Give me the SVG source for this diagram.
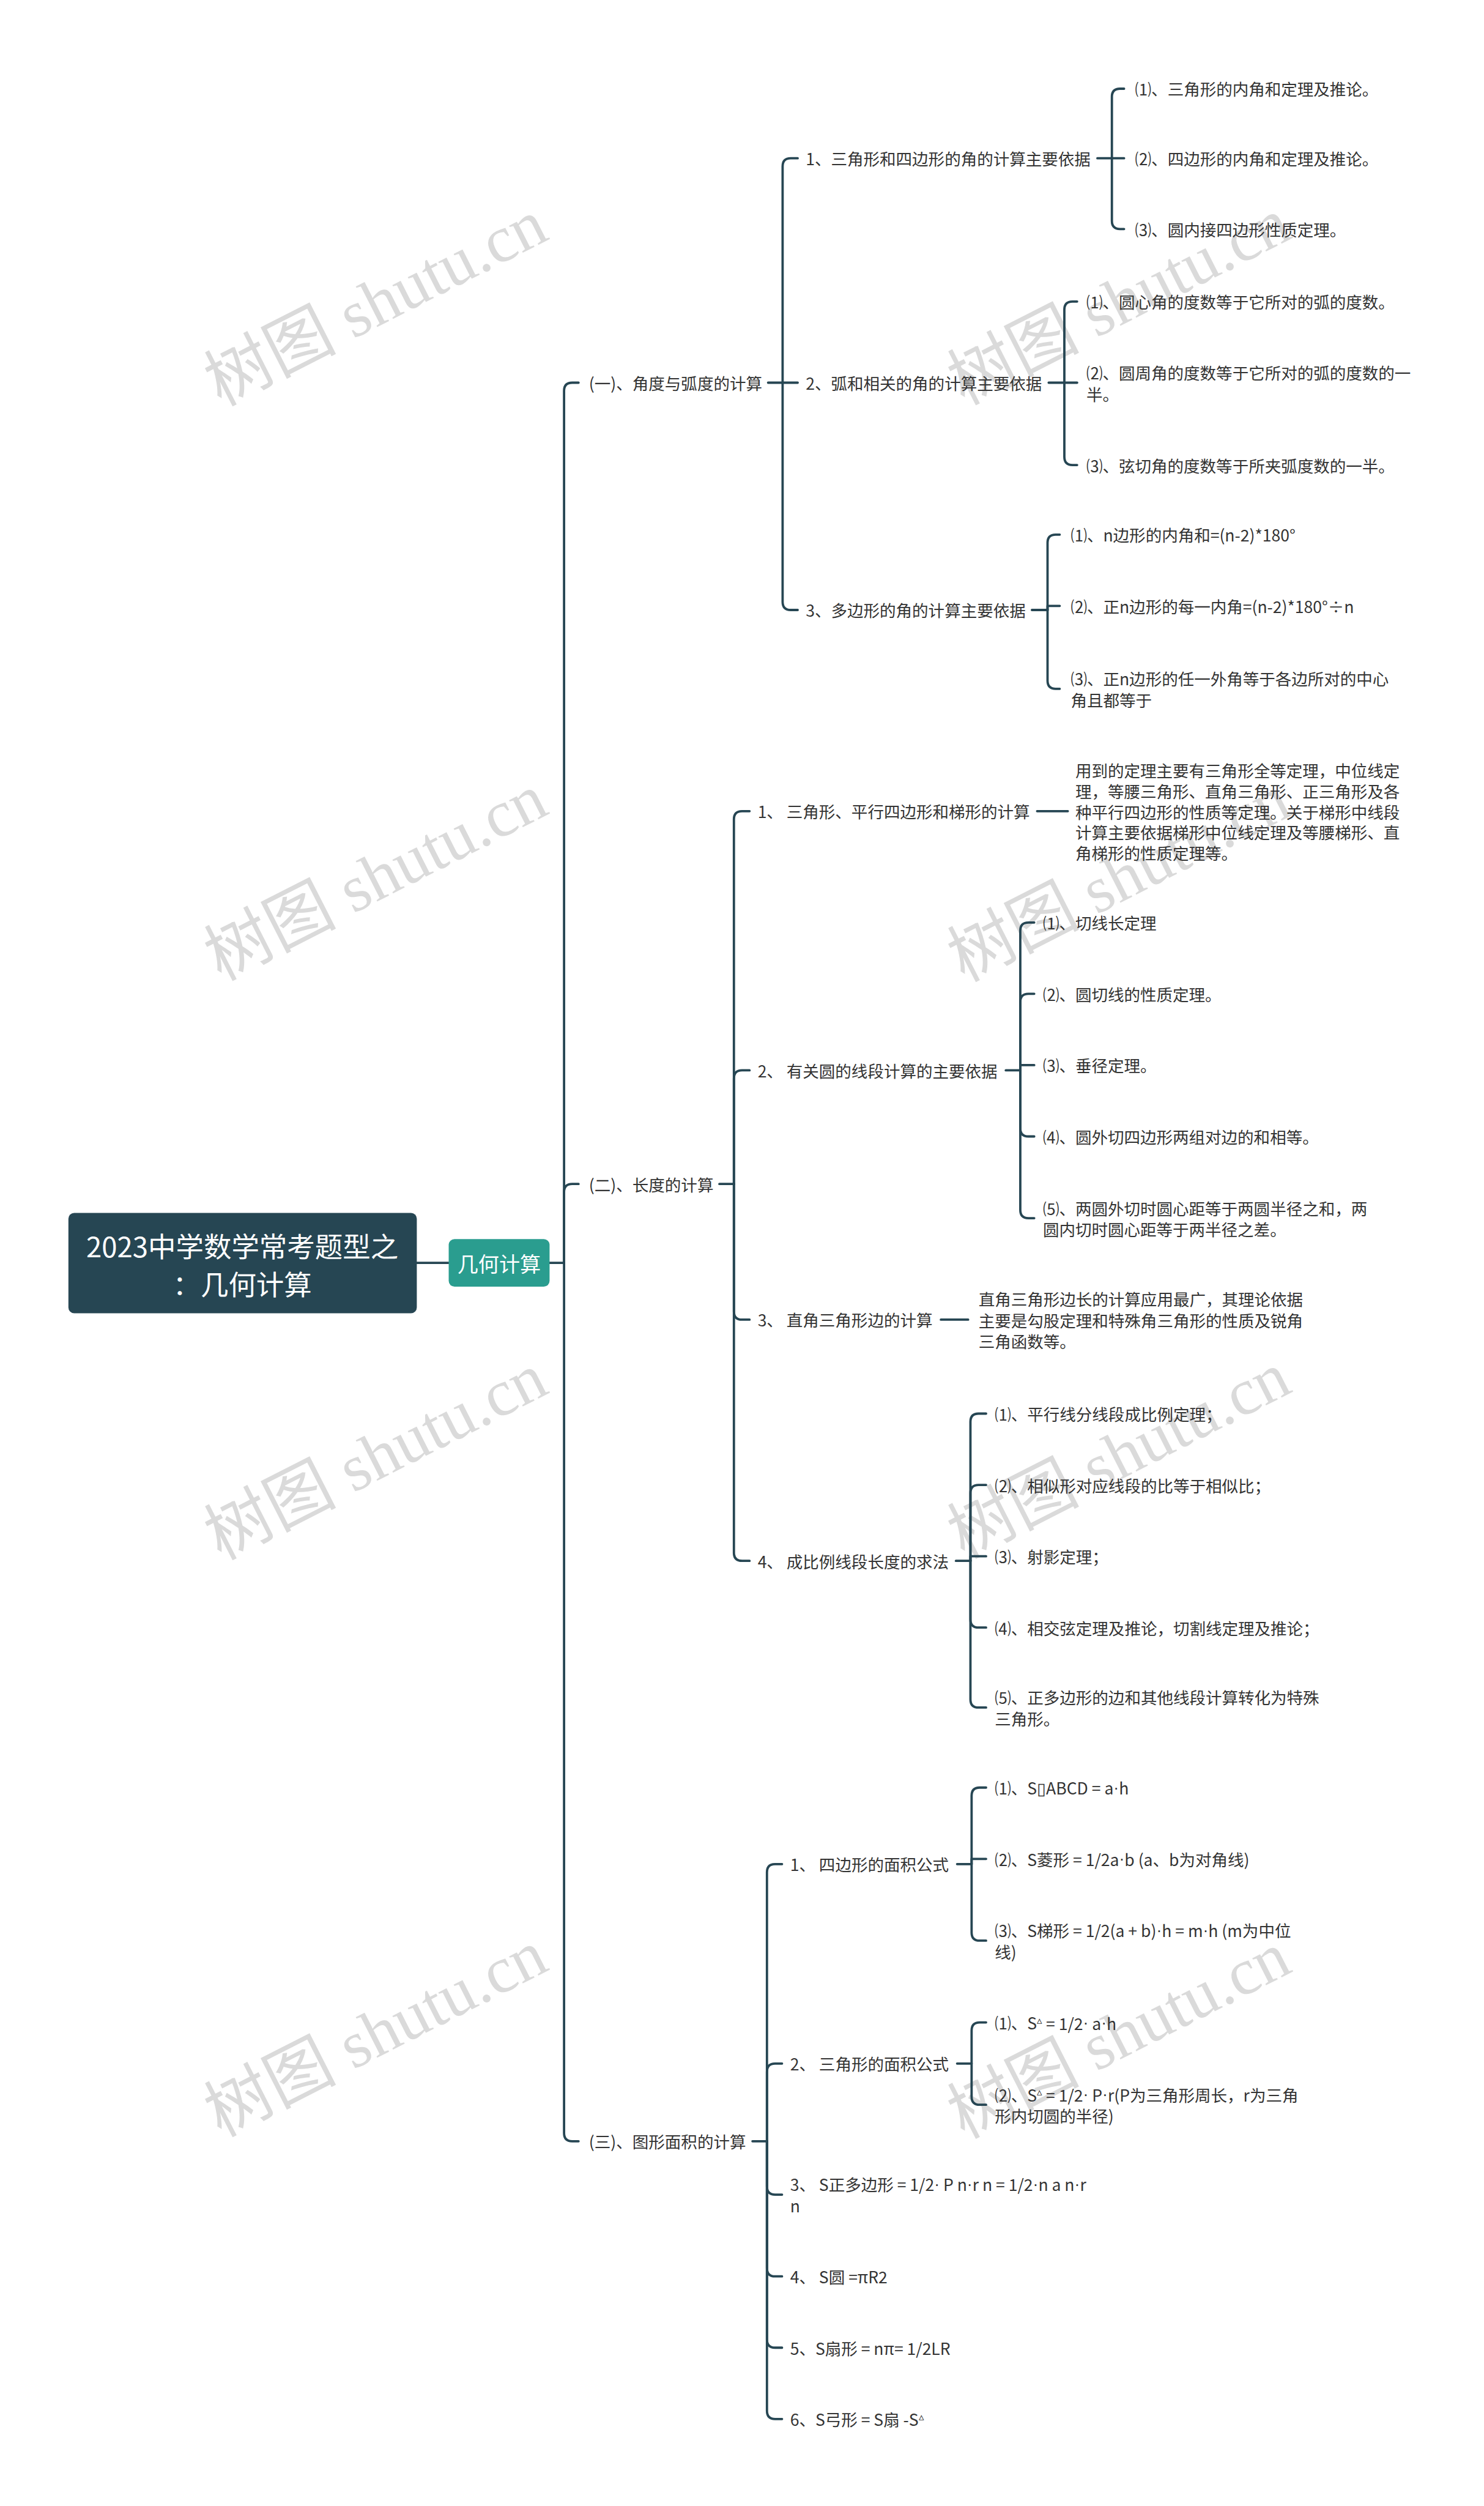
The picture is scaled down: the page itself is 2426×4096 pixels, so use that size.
<svg xmlns="http://www.w3.org/2000/svg" width="2426" height="4096" viewBox="0 0 2426 4096">
<style>
.t{font-family:"Noto Sans CJK SC","Microsoft YaHei",sans-serif;font-size:28px;fill:#333333;dominant-baseline:central}
.rt{font-family:"Noto Sans CJK SC","Microsoft YaHei",sans-serif;font-size:48px;fill:#ffffff;text-anchor:middle;dominant-baseline:central}
.l1t{font-family:"Noto Sans CJK SC","Microsoft YaHei",sans-serif;font-size:36px;fill:#ffffff;text-anchor:middle;dominant-baseline:central}
.c path{fill:none;stroke:#264653;stroke-width:4;stroke-linecap:round;stroke-linejoin:round}
.wm{font-family:"Liberation Serif","Noto Sans CJK SC",serif;font-size:114px;fill:#dadada;text-anchor:middle;dominant-baseline:central}
.tri{font-size:18px}
.m{font-family:"Liberation Sans",sans-serif}
</style>
<rect width="2426" height="4096" fill="#ffffff"/>
<g transform="scale(0.9477)">
<g id="watermarks">
<text class="wm" transform="translate(648,522) rotate(-27)">树图 shutu.cn</text>
<text class="wm" transform="translate(1930,520) rotate(-27)">树图 shutu.cn</text>
<text class="wm" transform="translate(648,1513) rotate(-27)">树图 shutu.cn</text>
<text class="wm" transform="translate(1930,1515) rotate(-27)">树图 shutu.cn</text>
<text class="wm" transform="translate(648,2512) rotate(-27)">树图 shutu.cn</text>
<text class="wm" transform="translate(1930,2510) rotate(-27)">树图 shutu.cn</text>
<text class="wm" transform="translate(648,3507) rotate(-27)">树图 shutu.cn</text>
<text class="wm" transform="translate(1930,3510) rotate(-27)">树图 shutu.cn</text>
</g>
<g id="connectors" class="c">
<path d="M719 2178H774"/>
<path d="M948 2178H973"/>
<path d="M973 2178V674Q973 660 987 660H998"/>
<path d="M973 2178V2056Q973 2042 987 2042H998"/>
<path d="M973 2178V3679Q973 3693 987 3693H998"/>
<path d="M1325 660H1350"/>
<path d="M1350 660V287Q1350 273 1364 273H1376"/>
<path d="M1350 660H1376"/>
<path d="M1350 660V1038Q1350 1052 1364 1052H1376"/>
<path d="M1893 273H1918"/>
<path d="M1918 273V167Q1918 153 1932 153H1939"/>
<path d="M1918 273H1939"/>
<path d="M1918 273V381Q1918 395 1932 395H1939"/>
<path d="M1809 660H1836"/>
<path d="M1836 660V534Q1836 520 1850 520H1858"/>
<path d="M1836 660H1858"/>
<path d="M1836 660V788Q1836 802 1850 802H1858"/>
<path d="M1780 1052H1807"/>
<path d="M1807 1052V936Q1807 922 1821 922H1828"/>
<path d="M1807 1052V1045H1828"/>
<path d="M1807 1052V1174Q1807 1188 1821 1188H1828"/>
<path d="M1241 2042H1266"/>
<path d="M1266 2042V1413Q1266 1399 1280 1399H1293"/>
<path d="M1266 2042V1860Q1266 1846 1280 1846H1293"/>
<path d="M1266 2042V2262Q1266 2276 1280 2276H1293"/>
<path d="M1266 2042V2678Q1266 2692 1280 2692H1293"/>
<path d="M1789 1399H1842"/>
<path d="M1735 1846H1760"/>
<path d="M1760 1846V1605Q1760 1591 1774 1591H1784"/>
<path d="M1760 1846V1728Q1760 1714 1774 1714H1784"/>
<path d="M1760 1846V1837H1784"/>
<path d="M1760 1846V1946Q1760 1960 1774 1960H1784"/>
<path d="M1760 1846V2087Q1760 2101 1774 2101H1784"/>
<path d="M1623 2276H1670"/>
<path d="M1649 2692H1674"/>
<path d="M1674 2692V2452Q1674 2438 1688 2438H1701"/>
<path d="M1674 2692V2575Q1674 2561 1688 2561H1701"/>
<path d="M1674 2692V2684H1701"/>
<path d="M1674 2692V2793Q1674 2807 1688 2807H1701"/>
<path d="M1674 2692V2931Q1674 2945 1688 2945H1701"/>
<path d="M1298 3693H1323"/>
<path d="M1323 3693V3229Q1323 3215 1337 3215H1349"/>
<path d="M1323 3693V3573Q1323 3559 1337 3559H1349"/>
<path d="M1323 3693V3771Q1323 3785 1337 3785H1349"/>
<path d="M1323 3693V3912Q1323 3926 1337 3926H1349"/>
<path d="M1323 3693V4035Q1323 4049 1337 4049H1349"/>
<path d="M1323 3693V4158Q1323 4172 1337 4172H1349"/>
<path d="M1651 3215H1676"/>
<path d="M1676 3215V3097Q1676 3083 1690 3083H1701"/>
<path d="M1676 3215V3206H1701"/>
<path d="M1676 3215V3333Q1676 3347 1690 3347H1701"/>
<path d="M1651 3559H1676"/>
<path d="M1676 3559V3502Q1676 3488 1690 3488H1701"/>
<path d="M1676 3559V3616Q1676 3630 1690 3630H1701"/>
</g>
<g id="root">
<rect x="118" y="2092" width="601" height="173" rx="10" fill="#264653"/>
<text class="rt" x="418" y="2147">2023中学数学常考题型之</text>
<text class="rt" x="418" y="2213">：几何计算</text>
</g>
<g id="n-main">
<rect x="774" y="2137" width="174" height="82" rx="10" fill="#2a9d8f"/>
<text class="l1t" x="861" y="2178">几何计算</text>
</g>
<g id="n-a"><text class="t" x="1016" y="660">(一)、角度与弧度的计算</text></g>
<g id="n-a1"><text class="t" x="1390" y="273">1、三角形和四边形的角的计算主要依据</text></g>
<g id="n-a1-1"><text class="t" x="1958" y="153">⑴、三角形的内角和定理及推论。</text></g>
<g id="n-a1-2"><text class="t" x="1958" y="273">⑵、四边形的内角和定理及推论。</text></g>
<g id="n-a1-3"><text class="t" x="1958" y="395">⑶、圆内接四边形性质定理。</text></g>
<g id="n-a2"><text class="t" x="1390" y="660">2、弧和相关的角的计算主要依据</text></g>
<g id="n-a2-1"><text class="t" x="1874" y="520">⑴、圆心角的度数等于它所对的弧的度数。</text></g>
<g id="n-a2-2"><text class="t" x="1874" y="642">⑵、圆周角的度数等于它所对的弧的度数的一<tspan x="1874" dy="36">半。</tspan></text></g>
<g id="n-a2-3"><text class="t" x="1874" y="802">⑶、弦切角的度数等于所夹弧度数的一半。</text></g>
<g id="n-a3"><text class="t" x="1390" y="1052">3、多边形的角的计算主要依据</text></g>
<g id="n-a3-1"><text class="t" x="1847" y="922">⑴、n边形的内角和=(n-2)*180°</text></g>
<g id="n-a3-2"><text class="t" x="1847" y="1045">⑵、正n边形的每一内角=(n-2)*180°÷n</text></g>
<g id="n-a3-3"><text class="t" x="1847" y="1170">⑶、正n边形的任一外角等于各边所对的中心<tspan x="1847" dy="36">角且都等于</tspan></text></g>
<g id="n-b"><text class="t" x="1016" y="2042">(二)、长度的计算</text></g>
<g id="n-b1"><text class="t" x="1307" y="1399">1、 三角形、平行四边形和梯形的计算</text></g>
<g id="n-b1-1"><text class="t" x="1855" y="1328">用到的定理主要有三角形全等定理，中位线定<tspan x="1855" dy="35.5">理，等腰三角形、直角三角形、正三角形及各</tspan><tspan x="1855" dy="35.5">种平行四边形的性质等定理。关于梯形中线段</tspan><tspan x="1855" dy="35.5">计算主要依据梯形中位线定理及等腰梯形、直</tspan><tspan x="1855" dy="35.5">角梯形的性质定理等。</tspan></text></g>
<g id="n-b2"><text class="t" x="1307" y="1846">2、 有关圆的线段计算的主要依据</text></g>
<g id="n-b2-1"><text class="t" x="1799" y="1591">⑴、切线长定理</text></g>
<g id="n-b2-2"><text class="t" x="1799" y="1714">⑵、圆切线的性质定理。</text></g>
<g id="n-b2-3"><text class="t" x="1799" y="1837">⑶、垂径定理。</text></g>
<g id="n-b2-4"><text class="t" x="1799" y="1960">⑷、圆外切四边形两组对边的和相等。</text></g>
<g id="n-b2-5"><text class="t" x="1799" y="2083">⑸、两圆外切时圆心距等于两圆半径之和，两<tspan x="1799" dy="36">圆内切时圆心距等于两半径之差。</tspan></text></g>
<g id="n-b3"><text class="t" x="1307" y="2276">3、 直角三角形边的计算</text></g>
<g id="n-b3-1"><text class="t" x="1688" y="2240">直角三角形边长的计算应用最广，其理论依据<tspan x="1688" dy="36">主要是勾股定理和特殊角三角形的性质及锐角</tspan><tspan x="1688" dy="36">三角函数等。</tspan></text></g>
<g id="n-b4"><text class="t" x="1307" y="2692">4、 成比例线段长度的求法</text></g>
<g id="n-b4-1"><text class="t" x="1716" y="2438">⑴、平行线分线段成比例定理；</text></g>
<g id="n-b4-2"><text class="t" x="1716" y="2561">⑵、相似形对应线段的比等于相似比；</text></g>
<g id="n-b4-3"><text class="t" x="1716" y="2684">⑶、射影定理；</text></g>
<g id="n-b4-4"><text class="t" x="1716" y="2807">⑷、相交弦定理及推论，切割线定理及推论；</text></g>
<g id="n-b4-5"><text class="t" x="1716" y="2927">⑸、正多边形的边和其他线段计算转化为特殊<tspan x="1716" dy="36">三角形。</tspan></text></g>
<g id="n-c"><text class="t" x="1016" y="3693">(三)、图形面积的计算</text></g>
<g id="n-c1"><text class="t" x="1363" y="3215">1、 四边形的面积公式</text></g>
<g id="n-c1-1"><text class="t" x="1716" y="3083">⑴、S▯ABCD = a<tspan class="m">·</tspan>h</text></g>
<g id="n-c1-2"><text class="t" x="1716" y="3206">⑵、S菱形 = 1/2a<tspan class="m">·</tspan>b (a、b为对角线)</text></g>
<g id="n-c1-3"><text class="t" x="1716" y="3329">⑶、S梯形 = 1/2(a + b)<tspan class="m">·</tspan>h = m<tspan class="m">·</tspan>h (m为中位<tspan x="1716" dy="36">线)</tspan></text></g>
<g id="n-c2"><text class="t" x="1363" y="3559">2、 三角形的面积公式</text></g>
<g id="n-c2-1"><text class="t" x="1716" y="3488">⑴、S<tspan class="tri" dy="-6">▵</tspan><tspan dy="6"> = 1/2<tspan class="m">·</tspan> a<tspan class="m">·</tspan>h</tspan></text></g>
<g id="n-c2-2"><text class="t" x="1716" y="3612">⑵、S<tspan class="tri" dy="-6">▵</tspan><tspan dy="6"> = 1/2<tspan class="m">·</tspan> P<tspan class="m">·</tspan>r(P为三角形周长，r为三角</tspan><tspan x="1716" dy="36">形内切圆的半径)</tspan></text></g>
<g id="n-c3"><text class="t" x="1363" y="3767">3、 S正多边形 = 1/2<tspan class="m">·</tspan> P n<tspan class="m">·</tspan>r n = 1/2<tspan class="m">·</tspan>n a n<tspan class="m">·</tspan>r<tspan x="1363" dy="36">n</tspan></text></g>
<g id="n-c4"><text class="t" x="1363" y="3926">4、 S圆 =πR2</text></g>
<g id="n-c5"><text class="t" x="1363" y="4049">5、S扇形 = nπ= 1/2LR</text></g>
<g id="n-c6"><text class="t" x="1363" y="4172">6、S弓形 = S扇 -S<tspan class="tri" dy="-6">▵</tspan></text></g>
</g>
</svg>
